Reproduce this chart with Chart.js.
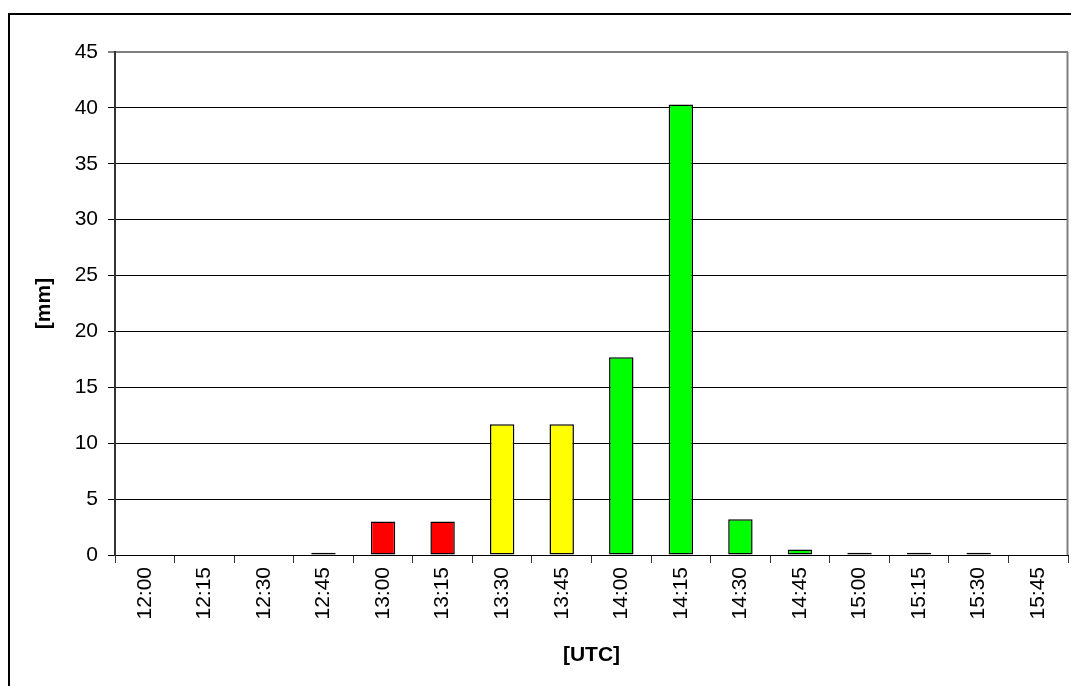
<!DOCTYPE html>
<html>
<head>
<meta charset="utf-8">
<script src="https://cdn.jsdelivr.net/npm/chart.js@4/dist/chart.umd.min.js"></script>
<style>
  html, body { margin: 0; padding: 0; background: #fff; }
  #wrap { width: 1071px; height: 686px; }
</style>
</head>
<body>
<div id="wrap"><canvas id="myChart" width="1071" height="686"></canvas></div>
<script>
// 15-minute precipitation sums
const times = ['12:00', '12:15', '12:30', '12:45', '13:00', '13:15', '13:30', '13:45',
               '14:00', '14:15', '14:30', '14:45', '15:00', '15:15', '15:30', '15:45']
const rain = [0, 0, 0, 0.2, 3.0, 3.0, 11.7, 11.7, 17.7, 40.3, 3.2, 0.5, 0.2, 0.2, 0.2, 0]
const barColors = ['#ff0000', '#ff0000', '#ff0000', '#ff0000', '#ff0000', '#ff0000',
                   '#ffff00', '#ffff00', '#00ff00', '#00ff00', '#00ff00', '#00ff00',
                   '#00ff00', '#00ff00', '#00ff00', '#00ff00']
const yTicks = [0, 5, 10, 15, 20, 25, 30, 35, 40, 45]

const font = { family: '"Liberation Sans", Arial, sans-serif', size: 21 }
const boldFont = { family: '"Liberation Sans", Arial, sans-serif', size: 21, weight: 'bold' }

// outer frame + right edge of the plot area
const frame = {
    id: 'frame',
    beforeDraw(chart) {
        const c = chart.ctx
        c.save()
        c.fillStyle = '#fff'
        c.fillRect(0, 0, chart.width, chart.height)
        c.strokeStyle = '#000'
        c.lineWidth = 2
        c.strokeRect(9, 14, 2000, 2000)
        c.restore()
    },
    afterDatasetsDraw(chart) {
        const a = chart.chartArea
        const c = chart.ctx
        c.save()
        c.strokeStyle = '#808080'
        c.lineWidth = 2
        c.beginPath()
        c.moveTo(a.right - 0.5, a.top)
        c.lineTo(a.right - 0.5, a.bottom)
        c.stroke()
        c.restore()
    }
}

new Chart(document.getElementById('myChart').getContext('2d'), {
    type: 'bar',
    data: {
        labels: times,
        datasets: [{
            data: rain,
            backgroundColor: barColors,
            borderColor: '#000',
            borderWidth: 1.5,
            borderSkipped: false,
            categoryPercentage: 1,
            barPercentage: 0.41
        }]
    },
    options: {
        responsive: false,
        animation: false,
        layout: { padding: { left: 26, top: 52, right: 3, bottom: 18 } },
        plugins: { legend: { display: false }, tooltip: { enabled: false } },
        scales: {
            x: {
                offset: true,
                grid: { offset: true, drawOnChartArea: false, drawTicks: true, tickLength: 8, color: '#333' },
                border: { color: '#000', width: 1 },
                ticks: { font, color: '#000', minRotation: 90, maxRotation: 90, autoSkip: false, padding: 4 },
                title: { display: true, text: '[UTC]', font: boldFont, color: '#000', padding: { top: 0, bottom: 0 } },
                afterFit(s) { s.height = 113 }
            },
            y: {
                min: 0,
                max: 45,
                afterBuildTicks(s) { s.ticks = yTicks.map(v => ({ value: v })) },
                grid: {
                    tickLength: 7,
                    color: ctx => ctx.tick && ctx.tick.value === 45 ? '#808080' : '#000',
                    lineWidth: ctx => ctx.tick && ctx.tick.value === 45 ? 2 : 1
                },
                border: { color: '#333', width: 2 },
                ticks: { font, color: '#000', padding: 10 },
                title: { display: true, text: '[mm]', font: boldFont, color: '#000', padding: { top: 6, bottom: 0 } },
                afterFit(s) { s.width = 89 }
            }
        }
    },
    plugins: [frame]
})
</script>
</body>
</html>
